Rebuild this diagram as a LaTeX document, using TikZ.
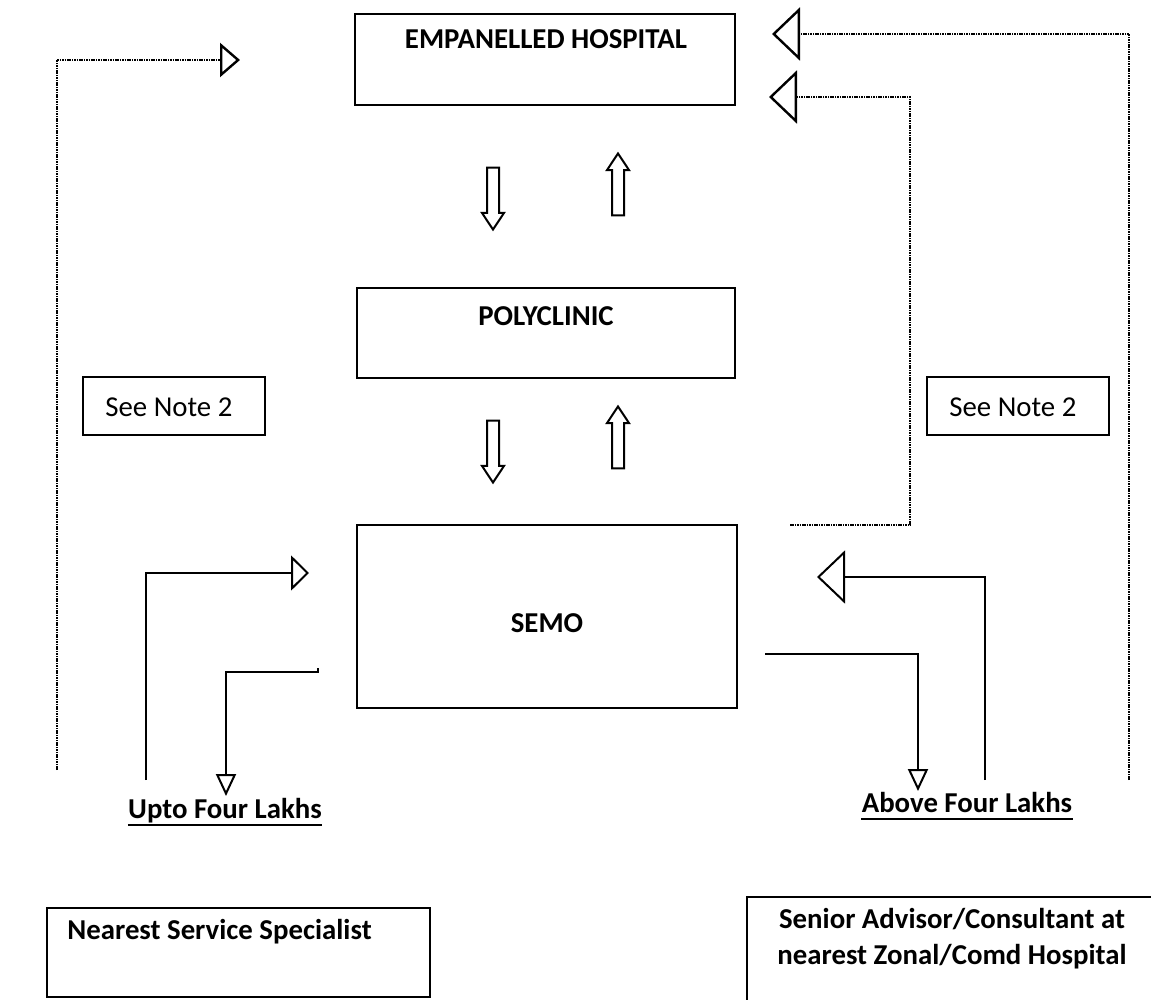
\documentclass[tikz,border=0pt]{standalone}
\usepackage{fontspec}
\setmainfont{Carlito}
\usetikzlibrary{arrows.meta,shapes.arrows}

\begin{document}
\begin{tikzpicture}[x=0.5pt,y=-0.5pt,
  box/.style={draw, line width=1pt, inner sep=0pt},
  txt/.style={inner sep=0pt, font=\fontsize{14.4}{18}\selectfont},
  btxt/.style={inner sep=0pt, font=\fontsize{14.4}{18}\selectfont\bfseries},
  dotline/.style={dash pattern=on 0.8pt off 0.4pt, line width=1.2pt},
  solidline/.style={line width=1pt},
  blk/.style={draw, line width=1pt, single arrow, single arrow head extend=2.5pt,
    single arrow tip angle=67, inner sep=2.5pt, minimum height=31pt}]
\useasboundingbox (0,0) rectangle (1151,1000);
% boxes
\node[box, minimum width=190pt, minimum height=45.5pt] (hosp) at (545,59.5) {};
\node[btxt, anchor=base] (hosptxt) at (546,49) {EMPANELLED HOSPITAL};
\node[box, minimum width=189pt, minimum height=45pt] (poly) at (546,333) {};
\node[btxt, anchor=base] (polytxt) at (546,325) {POLYCLINIC};
\node[box, minimum width=190pt, minimum height=91.5pt] (semo) at (547,616.5) {};
\node[btxt, anchor=base] (semotxt) at (547,632) {SEMO};
\node[box, minimum width=91pt, minimum height=29pt] (notel) at (174,406) {};
\node[txt, anchor=base west] (noteltxt) at (105,416) {See Note 2};
\node[box, minimum width=91pt, minimum height=29pt] (noter) at (1018,406) {};
\node[txt, anchor=base west] (notertxt) at (949,416) {See Note 2};
\node[box, minimum width=191.5pt, minimum height=44.5pt] (nss) at (238.5,952.5) {};
\node[btxt, anchor=base west] (nsstxt) at (67,939) {Nearest Service Specialist};
\node[box, minimum width=211.5pt, minimum height=54pt] (sadv) at (958.5,951) {};
\node[btxt, anchor=base, align=center] (sadvtxt) at (952,964) {Senior Advisor/Consultant at\\nearest Zonal/Comd Hospital};
% labels
\node[btxt, anchor=base] (upto) at (225,818) {Upto Four Lakhs};
\node[btxt, anchor=base] (above) at (967,812) {Above Four Lakhs};
\draw[line width=1pt] ([yshift=-3.5pt]upto.base west) -- ([yshift=-3.5pt]upto.base east);
\draw[line width=1pt] ([yshift=-3.5pt]above.base west) -- ([yshift=-3.5pt]above.base east);
% block arrows
\node[blk, rotate=-90] (pdn1) at (493,194) {};
\node[blk, rotate=90] (pup1) at (618,189) {};
\node[blk, rotate=-90] (pdn2) at (493,447) {};
\node[blk, rotate=90] (pup2) at (618,442) {};
% connector ends
\coordinate (ldotA) at (57,770);
\coordinate (ldotB) at (240,60);
\coordinate (rdotA) at (1129,780);
\coordinate (rdotB) at (772,34);
\coordinate (rinA) at (790,525);
\coordinate (rinB) at (910,97);
\coordinate (rinC) at (769,97);
\coordinate (lsolA) at (146,780);
\coordinate (lsolB) at (309,573);
\coordinate (linA) at (318,668);
\coordinate (linB) at (318,672);
\coordinate (linC) at (226,796);
\coordinate (abvA) at (765,654);
\coordinate (abvB) at (918,791);
\coordinate (rsolA) at (985,780);
\coordinate (rsolB) at (817,577);
% dotted connectors
\draw[dotline, -{Triangle[open,length=10pt,width=17pt]}] (ldotA) |- (ldotB);
\draw[dotline, -{Triangle[open,length=14pt,width=26.5pt]}] (rdotA) |- (rdotB);
\draw[dotline, -{Triangle[open,length=14pt,width=26.5pt]}] (rinA) -| (rinB) -- (rinC);
% solid connectors
\draw[solidline, -{Triangle[open,length=9pt,width=17.5pt]}] (lsolA) |- (lsolB);
\draw[solidline, -{Triangle[open,length=11pt,width=10pt]}] (linA) -- (linB) -| (linC);
\draw[solidline, -{Triangle[open,length=11pt,width=10pt]}] (abvA) -| (abvB);
\draw[solidline, -{Triangle[open,length=14pt,width=26.5pt]}] (rsolA) |- (rsolB);
\end{tikzpicture}
\end{document}
